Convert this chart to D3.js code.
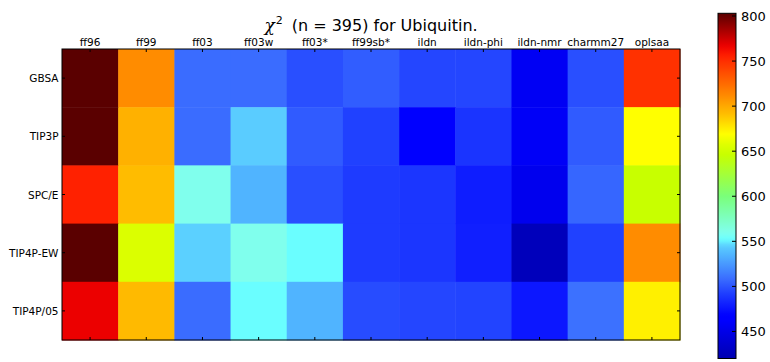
<!DOCTYPE html>
<html><head><meta charset="utf-8">
<script src="https://cdn.jsdelivr.net/npm/d3@7"></script>
<style>body{margin:0;background:#fff} svg{display:block} text{font-family:"DejaVu Sans",sans-serif;fill:#000}</style>
</head><body><svg id="c" width="770" height="362"></svg>
<script>
// ---- data ----
const solvents = ["GBSA", "TIP3P", "SPC/E", "TIP4P-EW", "TIP4P/05"];
const forceFields = ["ff96", "ff99", "ff03", "ff03w", "ff03*", "ff99sb*", "ildn", "ildn-phi", "ildn-nmr", "charmm27", "oplsaa"];
const gbsa    = [803, 711, 508, 508, 498, 503, 495, 495, 456, 498, 749];
const tip3p   = [803, 697, 508, 544, 502, 493, 464, 488, 458, 502, 669];
const spce    = [755, 692, 560, 535, 498, 491, 489, 479, 453, 506, 646];
const tip4pew = [803, 656, 545, 560, 552, 491, 489, 480, 426, 493, 711];
const tip4p05 = [767, 693, 508, 552, 535, 497, 495, 494, 477, 510, 674];
const colorTicks = [450, 500, 550, 600, 650, 700, 750, 800];
const titleText = "(n = 395) for Ubiquitin.";
const vmin = 420, vmax = 803;

// ---- colormap (jet-like, as seen in the reference) ----
const cmapT = [0, 0.11, 0.125, 0.19, 0.23, 0.30, 0.325, 0.345, 0.365, 0.47, 0.59, 0.617, 0.65, 0.71, 0.724, 0.76, 0.86, 0.876, 0.905, 1];
const cmapC = ["#0000b0", "#0000ff", "#0000ff", "#2040ff", "#3a6cff", "#50b4ff", "#5acdff", "#6affff", "#80ffee", "#7aff7a",
               "#c8ff00", "#dcff00", "#ffff00", "#ffbc00", "#ffb000", "#ff8c00", "#ff3000", "#ff2000", "#ee0000", "#5a0000"];

const values = [gbsa, tip3p, spce, tip4pew, tip4p05];
const svg = d3.select("#c");
const L = 62, R = 680, T = 49, B = 340;

const x = d3.scaleBand().domain(forceFields).range([L, R]);
const y = d3.scaleBand().domain(solvents).range([T, B]);
const color = d3.scaleLinear()
  .domain(cmapT.map(t => vmin + t * (vmax - vmin)))
  .range(cmapC).interpolate(d3.interpolateRgb).clamp(true);

const cells = [];
solvents.forEach((s, i) => forceFields.forEach((f, j) => cells.push({s, f, v: values[i][j]})));
svg.append("g").selectAll("rect").data(cells).join("rect")
  .attr("x", d => x(d.f)).attr("y", d => y(d.s))
  .attr("width", x.bandwidth() + 0.5).attr("height", y.bandwidth() + 0.5)
  .attr("fill", d => color(d.v));

svg.append("rect").attr("x", L).attr("y", T).attr("width", R - L).attr("height", B - T)
  .attr("fill", "none").attr("stroke", "#000").attr("stroke-width", 1);

// inward ticks
const tk = svg.append("g").attr("stroke", "#000").attr("stroke-width", 1);
forceFields.forEach(f => {
  const cx = x(f) + x.bandwidth() / 2;
  tk.append("line").attr("x1", cx).attr("x2", cx).attr("y1", T).attr("y2", T + 3);
  tk.append("line").attr("x1", cx).attr("x2", cx).attr("y1", B).attr("y2", B - 3);
});
solvents.forEach(s => {
  const cy = y(s) + y.bandwidth() / 2;
  tk.append("line").attr("x1", L).attr("x2", L + 3).attr("y1", cy).attr("y2", cy);
  tk.append("line").attr("x1", R).attr("x2", R - 3).attr("y1", cy).attr("y2", cy);
});

// labels
svg.append("g").selectAll("text").data(forceFields).join("text")
  .attr("x", d => x(d) + x.bandwidth() / 2).attr("y", 45.5)
  .attr("text-anchor", "middle").attr("font-size", 10.5).text(d => d);
svg.append("g").selectAll("text").data(solvents).join("text")
  .attr("x", 58.5).attr("y", d => y(d) + y.bandwidth() / 2)
  .attr("text-anchor", "end").attr("dominant-baseline", "central")
  .attr("font-size", 10.5).text(d => d);

// title
const title = svg.append("text").attr("x", 371).attr("y", 31).attr("text-anchor", "middle").attr("font-size", 16);
title.append("tspan").attr("font-family", "DejaVu Serif").attr("font-style", "italic").attr("font-size", 17).text("χ");
title.append("tspan").attr("font-size", 11).attr("dy", -7).attr("dx", 1).text("2");
title.append("tspan").attr("dy", 7).attr("dx", 9).text(titleText);

// colorbar
const cbX = 718, cbW = 18;
const cy = d3.scaleLinear().domain([vmin, vmax]).range([358.5, 13.3]);
const grad = svg.append("defs").append("linearGradient").attr("id", "cbg")
  .attr("x1", 0).attr("y1", 1).attr("x2", 0).attr("y2", 0);
d3.range(0, 1.0001, 0.01).forEach(t => {
  grad.append("stop").attr("offset", t).attr("stop-color", color(vmin + t * (vmax - vmin)));
});
svg.append("rect").attr("x", cbX).attr("y", cy(vmax)).attr("width", cbW).attr("height", cy(vmin) - cy(vmax))
  .attr("fill", "url(#cbg)").attr("stroke", "#000").attr("stroke-width", 1);
const cbt = svg.append("g");
colorTicks.forEach(v => {
  cbt.append("line").attr("x1", cbX + cbW - 4).attr("x2", cbX + cbW).attr("y1", cy(v)).attr("y2", cy(v))
    .attr("stroke", "#000").attr("stroke-width", 1);
  cbt.append("text").attr("x", 741).attr("y", cy(v)).attr("dominant-baseline", "central")
    .attr("font-size", 13).text(v);
});
</script></body></html>
